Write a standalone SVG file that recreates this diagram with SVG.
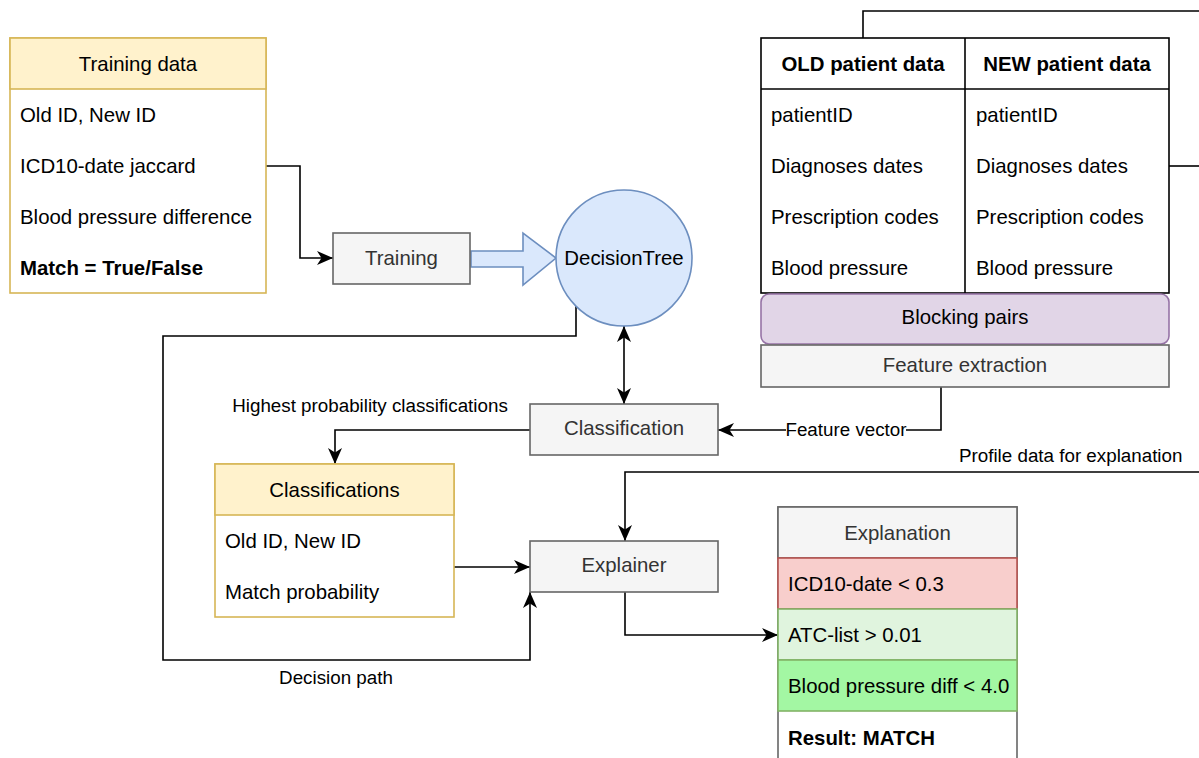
<svg xmlns="http://www.w3.org/2000/svg" width="1199" height="758" viewBox="0 0 1199 758">
<style>
text{font-family:"Liberation Sans",Arial,sans-serif;font-size:20.4px;fill:#000}
.lbl{font-size:18.8px}
.b{font-weight:bold}
.g{fill:#333333}
.c{text-anchor:middle}
.conn{fill:none;stroke:#000;stroke-width:1.6}
.yel{fill:#fff2cc;stroke:#d6b656;stroke-width:1.6}
.yelbody{fill:#fff;stroke:#d6b656;stroke-width:1.6}
.gray{fill:#f5f5f5;stroke:#666666;stroke-width:1.6}
.blk{fill:#fff;stroke:#000;stroke-width:1.6}
</style>
<defs>
<marker id="arr" markerUnits="userSpaceOnUse" markerWidth="17" markerHeight="15" refX="16" refY="7" orient="auto-start-reverse">
<path d="M0,0 L16,7 L0,14 L4.5,7 z" fill="#000"/>
</marker>
</defs>
<rect width="1199" height="758" fill="#fff"/>

<g id="connectors">
<polyline class="conn" points="266,166 300,166 300,258 333,258" marker-end="url(#arr)"/>
<polyline class="conn" points="576,306 576,336 163,336 163,660 530,660 530,592" marker-end="url(#arr)"/>
<line class="conn" x1="624" y1="326" x2="624" y2="404" marker-start="url(#arr)" marker-end="url(#arr)"/>
<polyline class="conn" points="530,430 335,430 335,464" marker-end="url(#arr)"/>
<polyline class="conn" points="941,387 941,430 718,430" marker-end="url(#arr)"/>
<rect x="786" y="420" width="120" height="20" fill="#fff"/>
<text class="lbl c" x="846" y="436">Feature vector</text>
<line class="conn" x1="454" y1="567" x2="530" y2="567" marker-end="url(#arr)"/>
<polyline class="conn" points="1199,472 625,472 625,541" marker-end="url(#arr)"/>
<polyline class="conn" points="625,592 625,635 778,635" marker-end="url(#arr)"/>
<polyline class="conn" points="863,38 863,11 1199,11"/>
<line class="conn" x1="1169" y1="166" x2="1199" y2="166"/>
<polygon points="471,251 523,251 523,233 556,258 523,285 523,267 471,267" fill="#dae8fc" stroke="#6c8ebf" stroke-width="1.6"/>
<text class="lbl c" x="370" y="412">Highest probability classifications</text>
<text class="lbl" x="959" y="462">Profile data for explanation</text>
<text class="lbl c" x="336" y="684">Decision path</text>
</g>

<g id="training-data">
<rect class="yelbody" x="10" y="38" width="256" height="255"/>
<rect class="yel" x="10" y="38" width="256" height="51"/>
<text class="c" x="138" y="71">Training data</text>
<text x="20" y="122">Old ID, New ID</text>
<text x="20" y="173">ICD10-date jaccard</text>
<text x="20" y="224">Blood pressure difference</text>
<text x="20" y="275" class="b">Match = True/False</text>
</g>

<g id="training">
<rect class="gray" x="333" y="233" width="137" height="51"/>
<text class="c g" x="401.5" y="265">Training</text>
</g>

<g id="decision-tree">
<circle cx="624" cy="258" r="68" fill="#dae8fc" stroke="#6c8ebf" stroke-width="1.6"/>
<text class="c" x="624" y="265">DecisionTree</text>
</g>

<g id="patient-data">
<rect class="blk" x="761" y="38" width="408" height="255"/>
<line x1="761" y1="89" x2="1169" y2="89" stroke="#000" stroke-width="1.6"/>
<line x1="965" y1="38" x2="965" y2="293" stroke="#000" stroke-width="1.6"/>
<text class="c b" x="863" y="71">OLD patient data</text>
<text class="c b" x="1067" y="71">NEW patient data</text>
<text x="771" y="122">patientID</text>
<text x="771" y="173">Diagnoses dates</text>
<text x="771" y="224">Prescription codes</text>
<text x="771" y="275">Blood pressure</text>
<text x="976" y="122">patientID</text>
<text x="976" y="173">Diagnoses dates</text>
<text x="976" y="224">Prescription codes</text>
<text x="976" y="275">Blood pressure</text>
</g>

<g id="blocking-pairs">
<rect x="761" y="294" width="408" height="50" rx="8" fill="#e1d5e7" stroke="#9673a6" stroke-width="1.6"/>
<text class="c" x="965" y="324">Blocking pairs</text>
</g>

<g id="feature-extraction">
<rect class="gray" x="761" y="345" width="408" height="42"/>
<text class="c g" x="965" y="372">Feature extraction</text>
</g>

<g id="classification">
<rect class="gray" x="530" y="404" width="188" height="51"/>
<text class="c g" x="624" y="435">Classification</text>
</g>

<g id="classifications">
<rect class="yelbody" x="215" y="464" width="239" height="153"/>
<rect class="yel" x="215" y="464" width="239" height="51"/>
<text class="c" x="334.5" y="497">Classifications</text>
<text x="225" y="548">Old ID, New ID</text>
<text x="225" y="599">Match probability</text>
</g>

<g id="explainer">
<rect class="gray" x="530" y="541" width="188" height="51"/>
<text class="c g" x="624" y="572">Explainer</text>
</g>

<g id="explanation">
<rect x="778" y="507" width="239" height="260" fill="#fff" stroke="#666666" stroke-width="1.6"/>
<rect class="gray" x="778" y="507" width="239" height="51"/>
<text class="c g" x="897.5" y="540">Explanation</text>
<rect x="778" y="558" width="239" height="51" fill="#f8cecc" stroke="#b85450" stroke-width="1.6"/>
<text x="788" y="591">ICD10-date &lt; 0.3</text>
<rect x="778" y="609" width="239" height="51" fill="#e0f4de" stroke="#82b366" stroke-width="1.6"/>
<text x="788" y="642">ATC-list &gt; 0.01</text>
<rect x="778" y="660" width="239" height="51" fill="#a3f7a3" stroke="#82b366" stroke-width="1.6"/>
<text x="788" y="693">Blood pressure diff &lt; 4.0</text>
<text x="788" y="745" class="b">Result: MATCH</text>
</g>
</svg>
